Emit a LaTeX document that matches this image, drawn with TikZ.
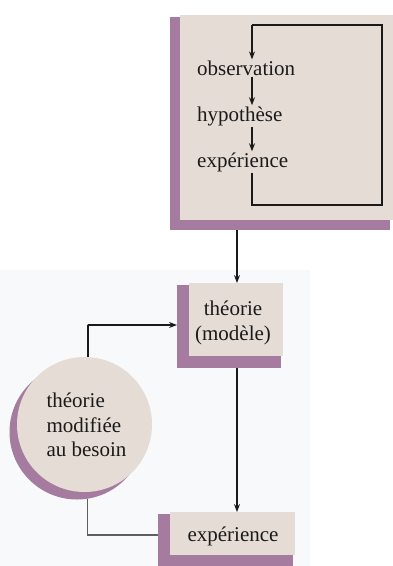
\documentclass[tikz,border=0pt]{standalone}
\usepackage{fontspec}
\setmainfont{Liberation Serif}
\usetikzlibrary{arrows.meta}
\definecolor{face}{HTML}{E5DCD5}
\definecolor{shade}{HTML}{A57C9F}
\definecolor{ink}{HTML}{1A1A1A}
\definecolor{tint}{HTML}{F7F9FB}
\begin{document}
\begin{tikzpicture}[x=1pt,y=-1pt,
  txt/.style={font=\fontsize{21}{24.5}\selectfont, text=ink},
  lbl/.style={txt, inner sep=1pt, anchor=west},
  faceshape/.style={fill=face, draw=none},
  shadeshape/.style={fill=shade, draw=none},
  conn/.style={draw=ink, line width=1.1pt},
  arr/.style={conn, -{Stealth[length=8pt,width=6pt]}}]
\useasboundingbox (0,0) rectangle (393,566);
\fill[white] (0,0) rectangle (393,566);
\fill[tint] (0,270) rectangle (310,566);
% top box
\node[shadeshape, minimum width=220pt, minimum height=213pt, anchor=north west] (topS) at (170,17) {};
\node[faceshape, minimum width=213pt, minimum height=205pt, anchor=north west] (topF) at (180,15) {};
% theorie box
\node[shadeshape, minimum width=104pt, minimum height=83pt, anchor=north west] (theoS) at (177,285) {};
\node[faceshape, minimum width=94pt, minimum height=73pt, anchor=north west] (theo) at (189,283) {};
% experience box
\node[shadeshape, minimum width=135pt, minimum height=54pt, anchor=north west] (expS) at (158,514) {};
\node[faceshape, minimum width=125pt, minimum height=43pt, anchor=north west] (exp) at (170,512) {};
% circle
\node[shadeshape, circle, minimum size=135pt, inner sep=0pt] (circS) at (77,432) {};
\node[faceshape, circle, minimum size=135pt, inner sep=0pt] (circ) at (84.5,424.5) {};
% texts top
\node[lbl] (obs) at (196,68) {observation};
\node[lbl] (hyp) at (196,116) {hypothèse};
\node[lbl] (exper) at (196,162) {expérience};
% texts others
\node[txt, align=center] (theoT) at (233,323) {théorie\\(modèle)};
\node[txt] (expT) at (233,536) {expérience};
\node[txt, align=left, anchor=west] (circT) at (43,425) {théorie\\modifiée\\au besoin};
% inner loop
\coordinate (lx) at (252,0);
\coordinate (ltop) at (252,25);
\coordinate (lbot) at (252,205);
\coordinate (rtop) at (382,25);
\coordinate (rbot) at (382,205);
\draw[conn] (exper.south -| lx) -- (lbot) -- (rbot) -- (rtop) -- (ltop);
\draw[arr] (ltop) -- (obs.north -| lx);
\draw[arr] (obs.south -| lx) -- (hyp.north -| lx);
\draw[arr] (hyp.south -| lx) -- (exper.north -| lx);
% main connectors
\coordinate (mx) at (237,0);
\draw[arr] (topS.south -| mx) -- (theo.north -| mx);
\draw[arr] (theoS.south -| mx) -- (exp.north -| mx);
\coordinate (cjoin) at (88,325);
\draw[arr] (circ.87) |- (cjoin) -- (cjoin -| theoS.west);
\coordinate (bjoin) at (88,535);
\draw[conn, draw=ink!70] (circS.-81) |- (bjoin) -- (bjoin -| expS.west);
\end{tikzpicture}
\end{document}
